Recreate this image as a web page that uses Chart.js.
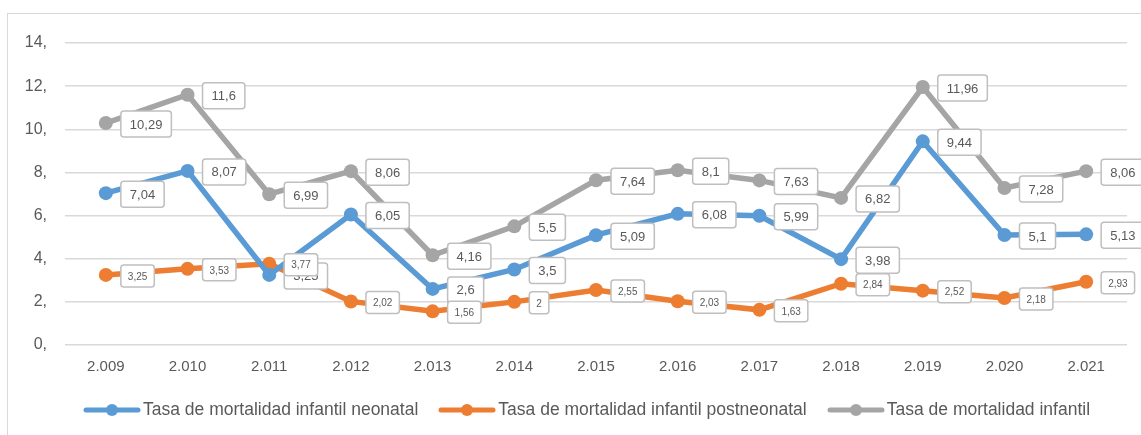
<!DOCTYPE html>
<html>
<head>
<meta charset="utf-8">
<script src="https://cdn.jsdelivr.net/npm/chart.js@4"></script>
<style>
  html, body { margin: 0; padding: 0; background: #fff; overflow: hidden; }
  #wrap { position: relative; width: 1141px; height: 435px; }
  #frame { position: absolute; left: 7px; top: 13px; width: 1200px; height: 500px; border: 1px solid #d9d9d9; box-sizing: border-box; }
  canvas#chart { position: absolute; left: 0; top: 0; }
  #legend { position: absolute; left: 83px; top: 399px; display: flex; align-items: center;
            font-family: 'Liberation Sans', sans-serif; font-size: 17.5px; color: #595959; white-space: nowrap; }
  .item { display: flex; align-items: center; margin-right: 20px; }
  .item canvas { margin-right: 2px; }
</style>
</head>
<body>
<div id="wrap">
  <div id="frame"></div>
  <canvas id="chart" width="1141" height="435"></canvas>
  <div id="legend"></div>
</div>
<script>
// Data
const years = ['2.009', '2.010', '2.011', '2.012', '2.013', '2.014', '2.015', '2.016', '2.017', '2.018', '2.019', '2.020', '2.021'];
const neonatal = [7.04, 8.07, 3.25, 6.05, 2.6, 3.5, 5.09, 6.08, 5.99, 3.98, 9.44, 5.1, 5.13];
const postneonatal = [3.25, 3.53, 3.77, 2.02, 1.56, 2, 2.55, 2.03, 1.63, 2.84, 2.52, 2.18, 2.93];
const infantil = [10.29, 11.6, 6.99, 8.06, 4.16, 5.5, 7.64, 8.1, 7.63, 6.82, 11.96, 7.28, 8.06];
const seriesNames = [
    'Tasa de mortalidad infantil neonatal',
    'Tasa de mortalidad infantil postneonatal',
    'Tasa de mortalidad infantil'
];

const FONT = "'Liberation Sans', sans-serif";
const colors = ['#5b9bd5', '#ed7d31', '#a5a5a5'];
const labelSizes = [13, 10, 13];

/**
 * Small line + dot icon used by the legend
 */
function legendIcon(color) {
    const c = document.createElement('canvas');
    c.width = 58;
    c.height = 14;
    const g = c.getContext('2d');
    g.strokeStyle = color;
    g.lineWidth = 5;
    g.lineCap = 'round';
    g.beginPath();
    g.moveTo(3, 7);
    g.lineTo(55, 7);
    g.stroke();
    g.fillStyle = color;
    g.beginPath();
    g.arc(29, 7, 6, 0, Math.PI * 2);
    g.fill();
    return c;
}

/**
 * Build the legend under the chart
 */
function buildLegend() {
    const legend = document.getElementById('legend');
    seriesNames.forEach((name, i) => {
        const item = document.createElement('div');
        item.className = 'item';
        item.appendChild(legendIcon(colors[i]));
        const span = document.createElement('span');
        span.textContent = name;
        item.appendChild(span);
        legend.appendChild(item);
    });
}

/**
 * Excel-style value boxes to the right of each point
 */
const valueBoxes = {
    id: 'valueBoxes',
    afterDatasetsDraw(chart) {
        const ctx = chart.ctx;
        chart.data.datasets.forEach((ds, di) => {
            const meta = chart.getDatasetMeta(di);
            const size = labelSizes[di];
            ctx.save();
            ctx.font = size + 'px ' + FONT;
            meta.data.forEach((pt, i) => {
                const text = String(ds.data[i]).replace('.', ',');
                const tw = ctx.measureText(text).width;
                const padX = size > 12 ? 9 : 7;
                const h = size > 12 ? 26 : 22;
                const w = tw + padX * 2;
                const x = pt.x + 15;
                const y = pt.y - h / 2 + 1;
                ctx.fillStyle = '#ffffff';
                ctx.strokeStyle = '#bfbfbf';
                ctx.lineWidth = 1.5;
                ctx.beginPath();
                ctx.roundRect(x, y, w, h, 3);
                ctx.fill();
                ctx.stroke();
                ctx.fillStyle = '#595959';
                ctx.textBaseline = 'middle';
                ctx.textAlign = 'left';
                ctx.fillText(text, x + padX, y + h / 2 + 1);
            });
            ctx.restore();
        });
    }
};

const seriesData = [neonatal, postneonatal, infantil];

buildLegend();

new Chart(document.getElementById('chart'), {
    type: 'line',
    data: {
        labels: years,
        datasets: seriesData.map((values, i) => ({
            label: seriesNames[i],
            data: values,
            borderColor: colors[i],
            backgroundColor: colors[i],
            borderWidth: 5.5,
            pointRadius: 7,
            pointHoverRadius: 7,
            pointBorderWidth: 0,
            tension: 0
        }))
    },
    options: {
        responsive: false,
        animation: false,
        layout: {
            padding: { top: 43, right: 14, left: 0, bottom: 54 }
        },
        plugins: {
            tooltip: { enabled: false },
            legend: { display: false }
        },
        scales: {
            x: {
                offset: true,
                grid: { display: false },
                border: { display: false },
                ticks: {
                    color: '#595959',
                    font: { family: FONT, size: 15 },
                    padding: 5,
                    maxRotation: 0
                }
            },
            y: {
                min: 0,
                max: 14,
                afterFit: function(scale) { scale.width = 65; },
                grid: { color: '#d9d9d9', lineWidth: 1.5, drawTicks: false },
                border: { display: false },
                ticks: {
                    stepSize: 2,
                    color: '#595959',
                    font: { family: FONT, size: 16 },
                    padding: 18,
                    callback: v => v + ','
                }
            }
        }
    },
    plugins: [valueBoxes]
});
</script>
</body>
</html>
